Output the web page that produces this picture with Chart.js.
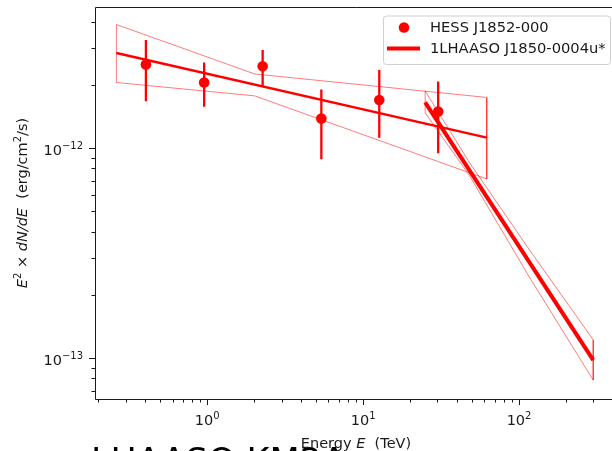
<!DOCTYPE html>
<html>
<head>
<meta charset="utf-8">
<script src="https://cdn.jsdelivr.net/npm/chart.js@4.4.0/dist/chart.umd.min.js"></script>
<style>
  html, body { margin: 0; padding: 0; background: #fff; overflow: hidden; width: 612px; height: 451px; }
  canvas { display: block; }
</style>
</head>
<body>
<canvas id="sed" width="640" height="451"></canvas>
<script>
// HESS J1852-000 flux points (TeV, erg/cm2/s)
const hessE = [0.405, 0.957, 2.27, 5.40, 12.7, 30.3];
const hessFlux = [2.50e-12, 2.05e-12, 2.45e-12, 1.38e-12, 1.69e-12, 1.49e-12];
const hessFluxLo = [1.67e-12, 1.57e-12, 1.97e-12, 8.83e-13, 1.12e-12, 9.44e-13];
const hessFluxHi = [3.27e-12, 2.55e-12, 2.93e-12, 1.90e-12, 2.35e-12, 2.07e-12];

// HESS best fit and its butterfly
const hessFitE = [0.262, 62.1];
const hessFitFlux = [2.83e-12, 1.12e-12];
const hessBandE = [0.262, 2.02, 62.1];
const hessBandUp = [3.87e-12, 2.25e-12, 1.74e-12];
const hessBandLo = [2.05e-12, 1.77e-12, 7.12e-13];

// 1LHAASO J1850-0004u* fit and butterfly
const lhaasoFitE = [25, 299];
const lhaasoFitFlux = [1.65e-12, 9.78e-14];
const lhaasoBandE = [25, 47.8, 116, 299];
const lhaasoBandUp = [1.87e-12, 8.58e-13, 3.29e-13, 1.22e-13];
const lhaasoBandLo = [1.47e-12, 7.44e-13, 2.44e-13, 7.85e-14];

// axes
const xRange = [0.191, 431];
const yRange = [6.38e-14, 4.69e-12];
const xMajorTicks = [1, 10, 100];
const xMajorExp = ['0', '1', '2'];
const yMajorTicks = [1e-12, 1e-13];
const yMajorExp = ['\u221212', '\u221213'];

const RED = '#ff0000';
const BAND = 'rgba(255,0,0,0.65)';
const FONT = '"DejaVu Sans", sans-serif';
const FS = 14.5;

function pts(xs, ys) {
    return xs.map((x, i) => ({ x: x, y: ys[i] }));
}

function bandPolygon(xs, up, lo) {
    const poly = pts(xs, up);
    for (let i = xs.length - 1; i >= 0; i--) poly.push({ x: xs[i], y: lo[i] });
    poly.push({ x: xs[0], y: up[0] });
    return poly;
}

function errorBars() {
    const out = [];
    hessE.forEach((e, i) => {
        out.push({ x: e, y: hessFluxLo[i] });
        out.push({ x: e, y: hessFluxHi[i] });
        out.push({ x: e, y: null });
    });
    return out;
}

function minorTicks(lo, hi) {
    const out = [];
    for (let d = Math.floor(Math.log10(lo)); d <= Math.ceil(Math.log10(hi)); d++) {
        for (let m = 2; m <= 9; m++) {
            const v = m * Math.pow(10, d);
            if (v >= lo && v <= hi) out.push(v);
        }
    }
    return out;
}

// draw text made of pieces (italic / superscript)
function drawParts(ctx, parts, x, y, align, size) {
    const supSize = Math.round(size * 0.7);
    const fontFor = p => (p.it ? 'italic ' : '') + (p.sup ? supSize : size) + 'px ' + FONT;
    let w = 0;
    parts.forEach(p => { ctx.font = fontFor(p); w += ctx.measureText(p.t).width; });
    let cx = align === 'center' ? x - w / 2 : (align === 'right' ? x - w : x);
    ctx.textAlign = 'left';
    parts.forEach(p => {
        ctx.font = fontFor(p);
        ctx.fillText(p.t, cx, p.sup ? y - size * 0.42 : y);
        cx += ctx.measureText(p.t).width;
    });
}

const axesPlugin = {
    id: 'mplAxes',
    afterDraw(chart) {
        const ctx = chart.ctx;
        const area = chart.chartArea;
        const xs = chart.scales.x;
        const ys = chart.scales.y;
        ctx.save();

        // frame (left, bottom, top)
        ctx.strokeStyle = '#1a1a1a';
        ctx.lineWidth = 1;
        ctx.beginPath();
        ctx.moveTo(area.right, area.top + 0.5);
        ctx.lineTo(area.left + 0.5, area.top + 0.5);
        ctx.lineTo(area.left + 0.5, area.bottom + 0.5);
        ctx.lineTo(area.right, area.bottom + 0.5);
        ctx.stroke();

        // ticks
        ctx.beginPath();
        xMajorTicks.forEach(v => {
            const px = Math.round(xs.getPixelForValue(v)) + 0.5;
            ctx.moveTo(px, area.bottom); ctx.lineTo(px, area.bottom + 6);
        });
        minorTicks(xRange[0], xRange[1]).forEach(v => {
            const px = Math.round(xs.getPixelForValue(v)) + 0.5;
            ctx.moveTo(px, area.bottom); ctx.lineTo(px, area.bottom + 3.5);
        });
        yMajorTicks.forEach(v => {
            const py = Math.round(ys.getPixelForValue(v)) + 0.5;
            ctx.moveTo(area.left, py); ctx.lineTo(area.left - 6, py);
        });
        minorTicks(yRange[0], yRange[1]).forEach(v => {
            const py = Math.round(ys.getPixelForValue(v)) + 0.5;
            ctx.moveTo(area.left, py); ctx.lineTo(area.left - 3.5, py);
        });
        ctx.stroke();

        // tick labels
        ctx.fillStyle = '#1a1a1a';
        ctx.textBaseline = 'alphabetic';
        xMajorTicks.forEach((v, i) => {
            const px = xs.getPixelForValue(v);
            drawParts(ctx, [{ t: '10' }, { t: xMajorExp[i], sup: true }], px, area.bottom + 26, 'center', FS);
        });
        yMajorTicks.forEach((v, i) => {
            const py = ys.getPixelForValue(v);
            drawParts(ctx, [{ t: '10' }, { t: yMajorExp[i], sup: true }], area.left - 12, py + 7, 'right', FS);
        });

        // big cut-off caption at the very bottom
        ctx.fillStyle = '#000';
        ctx.font = '35px ' + FONT;
        ctx.textAlign = 'left';
        ctx.fillText('LHAASO KM2A', 91, 473);

        // axis titles
        ctx.fillStyle = '#1a1a1a';
        drawParts(ctx, [{ t: 'Energy ' }, { t: 'E', it: true }, { t: '  (TeV)' }], 356, 448, 'center', FS);
        ctx.translate(22, (area.top + area.bottom) / 2);
        ctx.rotate(-Math.PI / 2);
        drawParts(ctx, [
            { t: 'E', it: true }, { t: '2', sup: true }, { t: ' \u00d7 ' },
            { t: 'dN/dE', it: true }, { t: '  (erg/cm' }, { t: '2', sup: true }, { t: '/s)' }
        ], 0, 5, 'center', FS);
        ctx.restore();

        // legend
        ctx.save();
        const lx = 383, ly = 15.5, lw = 227, lh = 48.5;
        ctx.fillStyle = 'rgba(255,255,255,0.8)';
        ctx.strokeStyle = '#d0d0d0';
        ctx.lineWidth = 1;
        ctx.beginPath();
        ctx.roundRect(lx + 0.5, ly + 0.5, lw, lh, 3);
        ctx.fill();
        ctx.stroke();
        ctx.fillStyle = RED;
        ctx.beginPath();
        ctx.arc(404, 27.5, 5.3, 0, Math.PI * 2);
        ctx.fill();
        ctx.strokeStyle = RED;
        ctx.lineWidth = 4;
        ctx.beginPath();
        ctx.moveTo(387, 48.5); ctx.lineTo(420, 48.5);
        ctx.stroke();
        ctx.fillStyle = '#1a1a1a';
        ctx.font = '14.7px ' + FONT;
        ctx.textBaseline = 'middle';
        ctx.textAlign = 'left';
        ctx.fillText('HESS J1852-000', 430, 28);
        ctx.fillText('1LHAASO J1850-0004u*', 430, 49);
        ctx.restore();
    }
};

new Chart(document.getElementById('sed'), {
    type: 'line',
    data: {
        datasets: [
            {
                label: 'HESS band',
                data: bandPolygon(hessBandE, hessBandUp, hessBandLo),
                borderColor: BAND, borderWidth: 0.8, pointRadius: 0, fill: false, tension: 0
            },
            {
                label: 'LHAASO band',
                data: bandPolygon(lhaasoBandE, lhaasoBandUp, lhaasoBandLo),
                borderColor: BAND, borderWidth: 0.8, pointRadius: 0, fill: false, tension: 0
            },
            {
                label: 'HESS fit',
                data: pts(hessFitE, hessFitFlux),
                borderColor: RED, borderWidth: 2.5, pointRadius: 0
            },
            {
                label: 'HESS errors',
                data: errorBars(),
                borderColor: RED, borderWidth: 2.3, pointRadius: 0, spanGaps: false
            },
            {
                label: 'HESS J1852-000',
                data: pts(hessE, hessFlux),
                showLine: false, pointRadius: 5.3, pointBackgroundColor: RED,
                pointBorderWidth: 0, borderColor: RED
            },
            {
                label: '1LHAASO J1850-0004u*',
                data: pts(lhaasoFitE, lhaasoFitFlux),
                borderColor: RED, borderWidth: 4, pointRadius: 0, borderCapStyle: 'butt'
            }
        ]
    },
    options: {
        responsive: false,
        animation: false,
        devicePixelRatio: 1,
        layout: { padding: { left: 95, top: 7, right: 22, bottom: 52 } },
        plugins: { legend: { display: false }, tooltip: { enabled: false } },
        scales: {
            x: { type: 'logarithmic', min: xRange[0], max: xRange[1], display: false },
            y: { type: 'logarithmic', min: yRange[0], max: yRange[1], display: false }
        }
    },
    plugins: [axesPlugin]
});
</script>
</body>
</html>
